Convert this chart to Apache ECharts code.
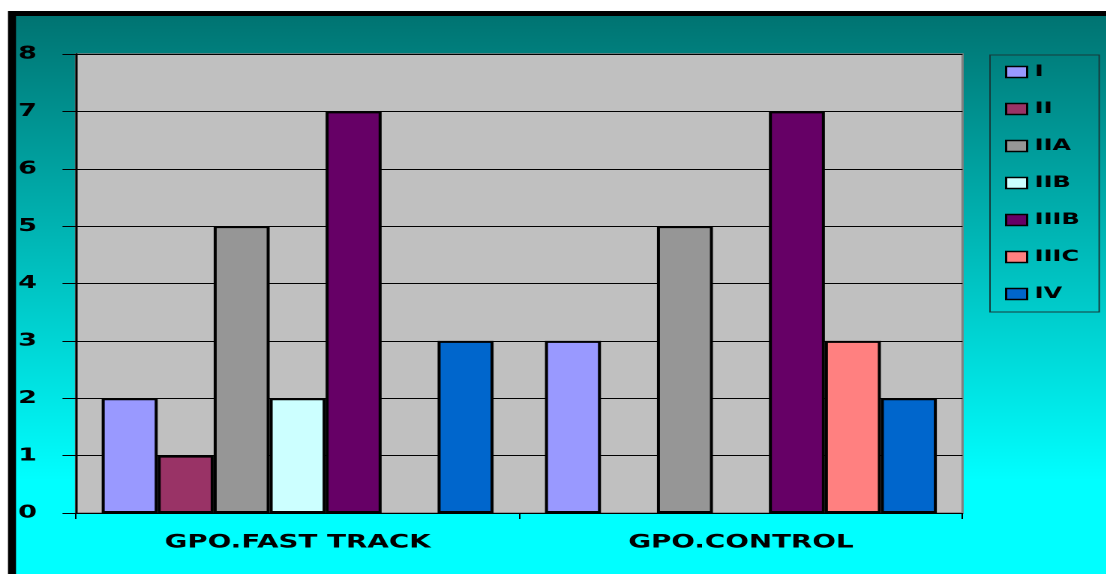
<!DOCTYPE html>
<html>
<head>
<meta charset="utf-8">
<title>GPO stages</title>
<script src="https://cdn.jsdelivr.net/npm/echarts@6/dist/echarts.min.js"></script>
<style>
  html, body { margin: 0; padding: 0; background: #ffffff; overflow: hidden; }
  /* the drawing is laid out narrow and widened 1.5x, giving the broad lettering */
  #chart { width: 737.333px; height: 574px; transform: scaleX(1.5); transform-origin: 0 0; }
</style>
</head>
<body>
<div id="chart"></div>
<script>
const categories = ['GPO.FAST TRACK', 'GPO.CONTROL'];
const stageNames = ['I', 'II', 'IIA', 'IIB', 'IIIB', 'IIIC', 'IV'];
const stageColors = ['#9999ff', '#993366', '#969696', '#ccffff', '#660066', '#ff8080', '#0066cc'];
const stageI    = [2, 3];
const stageII   = [1, null];
const stageIIA  = [5, 5];
const stageIIB  = [2, null];
const stageIIIB = [7, 7];
const stageIIIC = [null, 3];
const stageIV   = [3, 2];
const yTicks = [0, 1, 2, 3, 4, 5, 6, 7, 8];

const stageValues = [stageI, stageII, stageIIA, stageIIB, stageIIIB, stageIIIC, stageIV];
const W = 737.333, H = 574;
const boldFont = { fontFamily: 'DejaVu Sans', fontWeight: 'bold', color: '#000' };

const chart = echarts.init(document.getElementById('chart'), null, { renderer: 'canvas', devicePixelRatio: 2 });

const option = {
  backgroundColor: '#ffffff',
  animation: false,
  graphic: [
    { type: 'rect', z: -100, silent: true, shape: { x: 5.33, y: 11, width: W, height: H }, style: { fill: '#000000' } },
    { type: 'rect', z: -99, silent: true, shape: { x: 10.67, y: 16, width: W, height: H - 16 },
      style: { fill: { type: 'linear', x: 0, y: 0, x2: 0, y2: 1,
        colorStops: [ { offset: 0, color: '#007472' }, { offset: 0.83, color: '#00ffff' }, { offset: 1, color: '#00ffff' } ] } } }
  ],
  grid: {
    left: 50.67, right: 95.3, top: 54, bottom: 61,
    show: true, backgroundColor: '#c0c0c0', borderColor: '#808080', borderWidth: 1.5
  },
  legend: {
    orient: 'vertical', left: 660, top: 55,
    data: stageNames,
    icon: 'rect', itemWidth: 14, itemHeight: 11, itemGap: 21,
    padding: [9, 13, 10, 10],
    borderColor: '#163c3c', borderWidth: 1,
    itemStyle: { borderColor: '#000', borderWidth: 1.5 },
    textStyle: Object.assign({ fontSize: 16, lineHeight: 16 }, boldFont)
  },
  xAxis: {
    type: 'category', data: categories,
    axisLine: { lineStyle: { color: '#000', width: 1 } },
    axisTick: { show: true, length: 6, lineStyle: { color: '#000' } },
    axisLabel: Object.assign({ fontSize: 18.5, margin: 20 }, boldFont)
  },
  yAxis: {
    type: 'value', min: yTicks[0], max: yTicks[yTicks.length - 1], interval: 1,
    axisLine: { show: true, lineStyle: { color: '#000', width: 1.5 } },
    axisTick: { show: true, length: 9, lineStyle: { color: '#000' } },
    splitLine: { lineStyle: { color: '#000', width: 1 } },
    axisLabel: Object.assign({ fontSize: 18, margin: 26 }, boldFont)
  },
  series: stageNames.map((name, i) => ({
    name: name, type: 'bar', data: stageValues[i],
    barGap: '0%', barCategoryGap: '11.6%',
    itemStyle: { color: stageColors[i], borderColor: '#000', borderWidth: 2, borderJoin: 'miter' }
  }))
};

chart.setOption(option);
</script>
</body>
</html>
